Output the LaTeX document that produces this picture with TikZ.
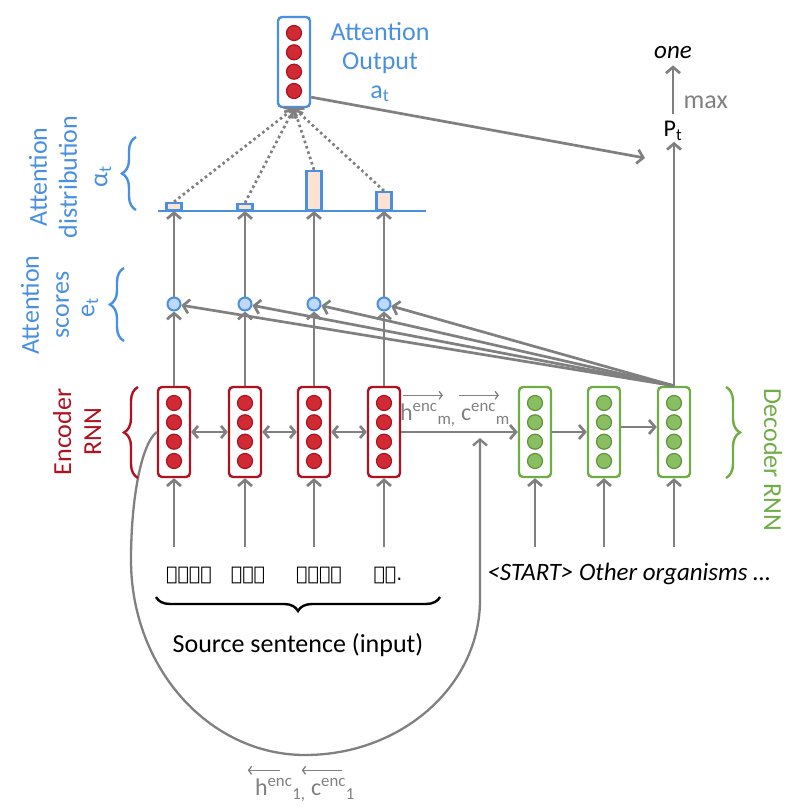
\documentclass[tikz,border=0pt]{standalone}
\usepackage{amsmath}
\usepackage{fontspec}
\setmainfont{Carlito}
\newfontfamily\cherokeefont{DejaVu Sans}
\usepackage{tikz}
\usetikzlibrary{arrows.meta, calc, decorations.pathreplacing}

\definecolor{attblue}{RGB}{74,144,226}
\definecolor{encred}{RGB}{176,18,32}
\definecolor{dotred}{RGB}{208,42,52}
\definecolor{decgreen}{RGB}{112,173,71}
\definecolor{dotgreen}{RGB}{138,190,98}
\definecolor{arrowgray}{RGB}{128,128,128}
\definecolor{barfill}{RGB}{251,226,210}
\definecolor{scorefill}{RGB}{192,216,250}

\tikzset
{
  cell/.style={draw, rounded corners=4pt, line width=2.4pt, minimum width=32pt, minimum height=90pt, inner sep=0pt},
  enccell/.style={cell, draw=encred},
  deccell/.style={cell, draw=decgreen},
  attcell/.style={cell, draw=attblue},
  encdot/.style={circle, draw=encred, fill=dotred, line width=1.2pt, minimum size=15pt, inner sep=0pt},
  decdot/.style={circle, draw=decgreen!85!black, fill=dotgreen, line width=1.2pt, minimum size=15pt, inner sep=0pt},
  flow/.style={draw=arrowgray, line width=2.7pt, -{Straight Barb[length=6pt, width=14pt]}},
  biflow/.style={draw=arrowgray, line width=2.7pt, {Straight Barb[length=5pt, width=12pt]}-{Straight Barb[length=5pt, width=12pt]}},
  attline/.style={draw=arrowgray, line width=2.7pt, dash pattern=on 2.6pt off 3pt, -{Straight Barb[length=6pt, width=14pt]}},
  loopline/.style={draw=arrowgray, line width=2.3pt, -{Straight Barb[length=6pt, width=14pt]}},
  statearrow/.style={draw=arrowgray, line width=1.3pt, -{Straight Barb[length=3pt, width=8pt]}},
  score/.style={circle, draw=attblue, fill=scorefill, line width=2pt, minimum size=13pt, inner sep=0pt},
  bar/.style={draw=attblue, fill=barfill, line width=2.2pt, minimum width=15pt, inner sep=0pt, anchor=south},
  bigtext/.style={font=\fontsize{26}{30}\selectfont, align=center, inner sep=0pt},
  midtext/.style={font=\fontsize{24}{27}\selectfont, inner sep=1pt},
  wordtext/.style={font=\fontsize{19}{22}\selectfont\cherokeefont},
  bracestyle/.style={decorate, decoration={brace, amplitude=14pt}, line width=2.4pt}
}

\begin{document}
\begin{tikzpicture}[x=1pt, y=-1pt]
    \useasboundingbox (0,0) rectangle (792,810);

    % Encoder and decoder cells
    \node[enccell] (enc1) at (174,432) {};
    \node[enccell] (enc2) at (245,432) {};
    \node[enccell] (enc3) at (314,432) {};
    \node[enccell] (enc4) at (384,432) {};
    \node[deccell] (dec1) at (535,432) {};
    \node[deccell] (dec2) at (604,432) {};
    \node[deccell] (dec3) at (674,432) {};

    % Attention output cell
    \node[attcell] (att) at (294,62) {};

    % Hidden units inside the cells
    \foreach \c/\s in {enc1/encdot,enc2/encdot,enc3/encdot,enc4/encdot,dec1/decdot,dec2/decdot,dec3/decdot,att/encdot}
      \foreach \d/\dy in {1/-29,2/-9.7,3/9.7,4/29}
        \node[\s] (\c-\d) at ($(\c.center)+(0,\dy)$) {};

    % Attention scores
    \node[score] (sc1) at (174,304) {};
    \node[score] (sc2) at (245,304) {};
    \node[score] (sc3) at (314,304) {};
    \node[score] (sc4) at (384,304) {};

    % Attention distribution
    \draw[attblue, line width=2.5pt] (158,211) -- (426,211);
    \node[bar, minimum height=7pt]  (bar1) at (174,211) {};
    \node[bar, minimum height=6pt]  (bar2) at (245,211) {};
    \node[bar, minimum height=39pt] (bar3) at (314,211) {};
    \node[bar, minimum height=18pt] (bar4) at (384,211) {};

    % Output side
    \node[midtext] (Pt) at (673,131) {P\textsubscript{t}};
    \node[midtext, font=\fontsize{25}{27}\selectfont\itshape] (one) at (673,53) {one};
    \coordinate (ptin) at (645,158);

    % Encoder and decoder recurrences
    \draw[biflow] (enc1) -- (enc2);
    \draw[biflow] (enc2) -- (enc3);
    \draw[biflow] (enc3) -- (enc4);
    \draw[flow] (enc4) -- (dec1);
    \draw[flow] (dec1) -- (dec2);
    \draw[flow] ([yshift=5pt]dec2.east) -- ([yshift=5pt]dec3.west);

    % Inputs
    \foreach \c in {enc1,enc2,enc3,enc4,dec1,dec2,dec3}
      \draw[flow] ($(\c.south)+(0,69)$) -- (\c.south);

    % Scores and distribution
    \foreach \i in {1,2,3,4} {
      \draw[flow] (enc\i.north) -- (sc\i.south);
      \draw[flow] (sc\i.north) -- (bar\i.south);
      \draw[flow] (dec3.north) -- (sc\i);
      \draw[attline] (bar\i.north) -- (att.south);
    }

    % Prediction
    \draw[flow] (dec3.north) -- (dec3.north |- Pt.south);
    \draw[flow] ([yshift=11pt]att.south east) -- (ptin);
    \draw[flow, shorten <=6pt, shorten >=5pt] (Pt.north) -- (one.south)
        node[pos=0.3, right=6pt, font=\fontsize{26}{28}\selectfont, text=arrowgray] (maxlbl) {max};

    % Encoder state carried round to the decoder
    \coordinate (loopin) at (480,438);
    \draw[loopline] (enc1.west) .. controls (141,444) and (131,500) .. (131,560)
        arc[start angle=180, end angle=90, x radius=174, y radius=195]
        arc[start angle=90, end angle=0, x radius=175, y radius=155] -- (loopin);

    % State labels
    \node[midtext, text=arrowgray] (hm) at (455,415)
        {h\textsuperscript{enc}\textsubscript{m,} c\textsuperscript{enc}\textsubscript{m}};
    \draw[statearrow] ($(hm.north west)+(4,-7)$) -- ++(40,0);
    \draw[statearrow] ($(hm.north west)+(60,-7)$) -- ++(40,0);
    \node[midtext, text=arrowgray] (h1) at (305,790)
        {h\textsuperscript{enc}\textsubscript{1,} c\textsuperscript{enc}\textsubscript{1}};
    \draw[statearrow] ($(h1.north west)+(26,-7)$) -- ++(-32,0);
    \draw[statearrow] ($(h1.north west)+(88,-7)$) -- ++(-40,0);

    % Words
    \node[wordtext] (src1) at (189,575) {ᎠᏂᏐᎢ};
    \node[wordtext] (src2) at (248,575) {ᎡᎾᎢ};
    \node[wordtext] (src3) at (319,575) {ᏂᏓᏅᏁ};
    \node[wordtext] (src4) at (388,575) {ᏚᏓ.};
    \node[font=\fontsize{25}{27}\selectfont\itshape] (tgt) at (629,574) {<START> Other organisms …};

    % Braces and side labels
    \draw[bracestyle] (440,597) -- (156,597);
    \node[bigtext] (srclbl) at (298,645) {Source sentence (input)};

    \draw[bracestyle, attblue] (136,210) -- (136,137);
    \node[bigtext, text=attblue, rotate=90] (alpha) at (103,177) {α\textsubscript{t}};
    \node[bigtext, text=attblue, rotate=90] (distlbl) at (53,177) {Attention\\distribution};

    \draw[bracestyle, attblue] (124,341) -- (124,268);
    \node[bigtext, text=attblue, rotate=90] (elbl) at (90,308) {e\textsubscript{t}};
    \node[bigtext, text=attblue, rotate=90] (scorelbl) at (45,305) {Attention\\scores};

    \draw[bracestyle, encred] (138,478) -- (138,387);
    \node[bigtext, text=encred, rotate=90] (enclbl) at (77,432) {Encoder\\RNN};

    \draw[bracestyle, decgreen] (726,387) -- (726,478);
    \node[bigtext, text=decgreen, rotate=-90] (declbl) at (773,460) {Decoder RNN};

    \node[bigtext, text=attblue, font=\fontsize{26}{29}\selectfont] (attlbl) at (380,62) {Attention\\Output\\a\textsubscript{t}};

\end{tikzpicture}
\end{document}
